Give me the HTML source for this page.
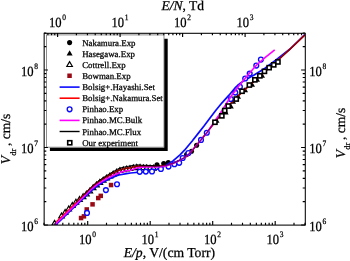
<!DOCTYPE html><html><head><meta charset="utf-8"><style>html,body{margin:0;padding:0;background:#fff}svg{display:block;will-change:transform}text{text-rendering:geometricPrecision;stroke:#000;stroke-width:0.25px;font-family:"Liberation Serif",serif;fill:#000}</style></head><body>
<svg width="350" height="261" viewBox="0 0 350 261">
<rect width="350" height="261" fill="#fff"/>
<clipPath id="c"><rect x="44.0" y="33.0" width="261.0" height="192.0"/></clipPath>
<g clip-path="url(#c)">
<circle cx="157.0" cy="164.7" r="2.55" fill="#000"/>
<circle cx="163.7" cy="163.6" r="2.55" fill="#000"/>
<circle cx="168.3" cy="162.5" r="2.55" fill="#000"/>
<circle cx="186.6" cy="154.6" r="2.55" fill="#000"/>
<circle cx="191.5" cy="151.2" r="2.55" fill="#000"/>
<circle cx="196.6" cy="145.2" r="2.55" fill="#000"/>
<polygon points="216.50,117.49 213.50,122.71 219.50,122.71" fill="#000"/>
<polygon points="221.00,111.99 218.00,117.21 224.00,117.21" fill="#000"/>
<polygon points="225.60,109.29 222.60,114.51 228.60,114.51" fill="#000"/>
<polygon points="230.80,103.29 227.80,108.51 233.80,108.51" fill="#000"/>
<polygon points="233.00,98.49 230.00,103.71 236.00,103.71" fill="#000"/>
<polygon points="238.00,93.49 235.00,98.71 241.00,98.71" fill="#000"/>
<polygon points="245.00,86.99 242.00,92.21 248.00,92.21" fill="#000"/>
<polygon points="252.00,81.49 249.00,86.71 255.00,86.71" fill="#000"/>
<polygon points="257.00,76.49 254.00,81.71 260.00,81.71" fill="#000"/>
<polygon points="262.00,72.49 259.00,77.71 265.00,77.71" fill="#000"/>
<polygon points="54.60,220.31 51.80,225.18 57.40,225.18" fill="#fff" stroke="#000" stroke-width="1.15" stroke-linejoin="miter"/>
<polygon points="61.50,213.01 58.70,217.88 64.30,217.88" fill="#fff" stroke="#000" stroke-width="1.15" stroke-linejoin="miter"/>
<polygon points="65.10,209.50 62.30,214.37 67.90,214.37" fill="#fff" stroke="#000" stroke-width="1.15" stroke-linejoin="miter"/>
<polygon points="68.70,205.99 65.90,210.86 71.50,210.86" fill="#fff" stroke="#000" stroke-width="1.15" stroke-linejoin="miter"/>
<polygon points="72.30,202.51 69.50,207.38 75.10,207.38" fill="#fff" stroke="#000" stroke-width="1.15" stroke-linejoin="miter"/>
<polygon points="75.90,199.23 73.10,204.10 78.70,204.10" fill="#fff" stroke="#000" stroke-width="1.15" stroke-linejoin="miter"/>
<polygon points="79.50,196.49 76.70,201.36 82.30,201.36" fill="#fff" stroke="#000" stroke-width="1.15" stroke-linejoin="miter"/>
<polygon points="83.10,193.74 80.30,198.62 85.90,198.62" fill="#fff" stroke="#000" stroke-width="1.15" stroke-linejoin="miter"/>
<polygon points="86.45,191.12 83.65,195.99 89.25,195.99" fill="#fff" stroke="#000" stroke-width="1.15" stroke-linejoin="miter"/>
<polygon points="89.80,188.04 87.00,192.91 92.60,192.91" fill="#fff" stroke="#000" stroke-width="1.15" stroke-linejoin="miter"/>
<polygon points="93.15,184.80 90.35,189.68 95.95,189.68" fill="#fff" stroke="#000" stroke-width="1.15" stroke-linejoin="miter"/>
<polygon points="96.50,181.93 93.70,186.80 99.30,186.80" fill="#fff" stroke="#000" stroke-width="1.15" stroke-linejoin="miter"/>
<polygon points="99.85,179.48 97.05,184.35 102.65,184.35" fill="#fff" stroke="#000" stroke-width="1.15" stroke-linejoin="miter"/>
<polygon points="103.20,177.19 100.40,182.06 106.00,182.06" fill="#fff" stroke="#000" stroke-width="1.15" stroke-linejoin="miter"/>
<polygon points="106.55,175.08 103.75,179.95 109.35,179.95" fill="#fff" stroke="#000" stroke-width="1.15" stroke-linejoin="miter"/>
<polygon points="109.90,173.13 107.10,178.00 112.70,178.00" fill="#fff" stroke="#000" stroke-width="1.15" stroke-linejoin="miter"/>
<polygon points="113.25,171.14 110.45,176.01 116.05,176.01" fill="#fff" stroke="#000" stroke-width="1.15" stroke-linejoin="miter"/>
<polygon points="116.60,169.22 113.80,174.09 119.40,174.09" fill="#fff" stroke="#000" stroke-width="1.15" stroke-linejoin="miter"/>
<polygon points="119.95,167.66 117.15,172.53 122.75,172.53" fill="#fff" stroke="#000" stroke-width="1.15" stroke-linejoin="miter"/>
<polygon points="123.30,166.85 120.50,171.72 126.10,171.72" fill="#fff" stroke="#000" stroke-width="1.15" stroke-linejoin="miter"/>
<polygon points="126.65,166.06 123.85,170.94 129.45,170.94" fill="#fff" stroke="#000" stroke-width="1.15" stroke-linejoin="miter"/>
<polygon points="130.00,165.58 127.20,170.46 132.80,170.46" fill="#fff" stroke="#000" stroke-width="1.15" stroke-linejoin="miter"/>
<polygon points="133.35,164.85 130.55,169.72 136.15,169.72" fill="#fff" stroke="#000" stroke-width="1.15" stroke-linejoin="miter"/>
<polygon points="136.70,164.50 133.90,169.37 139.50,169.37" fill="#fff" stroke="#000" stroke-width="1.15" stroke-linejoin="miter"/>
<polygon points="140.05,164.51 137.25,169.38 142.85,169.38" fill="#fff" stroke="#000" stroke-width="1.15" stroke-linejoin="miter"/>
<polygon points="143.40,164.80 140.60,169.67 146.20,169.67" fill="#fff" stroke="#000" stroke-width="1.15" stroke-linejoin="miter"/>
<polygon points="146.75,164.86 143.95,169.73 149.55,169.73" fill="#fff" stroke="#000" stroke-width="1.15" stroke-linejoin="miter"/>
<polygon points="150.10,165.03 147.30,169.90 152.90,169.90" fill="#fff" stroke="#000" stroke-width="1.15" stroke-linejoin="miter"/>
<polygon points="153.45,165.20 150.65,170.08 156.25,170.08" fill="#fff" stroke="#000" stroke-width="1.15" stroke-linejoin="miter"/>
<rect x="78.8" y="215.8" width="4.5" height="4.5" fill="#9a0a14"/>
<rect x="81.7" y="214.1" width="4.5" height="4.5" fill="#9a0a14"/>
<rect x="84.5" y="207.2" width="4.5" height="4.5" fill="#9a0a14"/>
<rect x="90.3" y="202.1" width="4.5" height="4.5" fill="#9a0a14"/>
<rect x="96.0" y="195.8" width="4.5" height="4.5" fill="#9a0a14"/>
<rect x="98.5" y="193.6" width="4.5" height="4.5" fill="#9a0a14"/>
<rect x="108.8" y="182.8" width="4.5" height="4.5" fill="#9a0a14"/>
<path d="M56.2 224.5L58.2 222.5L60.2 220.6L62.2 218.6L64.2 216.7L66.2 214.8L68.2 212.8L70.2 210.9L72.2 209.0L74.2 207.1L76.2 205.2L78.2 203.3L80.2 201.4L82.2 199.5L84.2 197.6L86.2 195.7L88.2 193.8L90.2 191.9L92.2 190.0L94.2 188.3L96.2 186.7L98.2 185.3L100.2 184.0L102.2 182.8L104.2 181.6L106.2 180.5L108.2 179.5L110.2 178.5L112.2 177.6L116.0 176.0L119.0 175.0L126.5 173.7L130.5 173.0L136.0 172.5L140.0 172.2L146.0 171.7L152.0 170.8L157.0 169.3L162.0 167.4L167.0 165.0L173.0 160.9L180.0 154.8L184.5 150.2L192.0 141.2L198.0 133.6L204.0 126.0L210.0 118.0L215.7 110.5L222.0 102.8L229.0 95.2L235.0 88.0L240.0 83.4L246.0 79.4L253.7 75.2L265.0 68.2L276.0 59.9L290.0 49.0L305.0 34.4" fill="none" stroke="#0a0aff" stroke-width="1.7" stroke-linejoin="round"/>
<path d="M56.5 221.9L58.5 219.9L60.5 218.0L62.5 216.0L64.5 214.1L66.5 212.1L68.5 210.2L70.5 208.2L72.5 206.3L74.5 204.3L76.5 202.4L78.5 200.4L80.5 198.4L82.5 196.5L84.5 194.5L86.5 192.5L88.5 190.4L90.5 188.5L92.5 186.6L94.5 184.8L96.5 183.2L98.5 181.8L100.5 180.4L102.5 179.1L104.5 177.9L106.5 176.7L108.5 175.6L110.5 174.5L112.5 173.4L114.5 172.4L116.5 171.4L118.5 170.4L120.5 169.7L122.5 169.2L124.5 168.8L126.5 168.3L128.5 168.1L130.5 167.8L132.5 167.2L134.5 166.8L136.5 166.4L138.5 166.1L140.5 166.1L142.5 166.2L144.5 166.1L146.5 166.1L148.5 166.2L150.5 166.2L152.5 166.2L154.5 166.3L156.5 166.2L158.5 166.1L160.5 166.0L167.0 165.2L173.0 163.3L178.0 161.1L184.5 157.6L189.0 153.9L193.0 149.6L199.0 142.3L205.0 134.8L211.0 127.2L217.0 119.5L223.0 112.3L229.0 105.4L235.0 99.2L243.0 91.3L250.0 84.9L256.0 79.4L265.0 71.6L276.0 62.0L290.0 49.2L305.0 34.9" fill="none" stroke="#ff0000" stroke-width="1.6" stroke-linejoin="round"/>
<circle cx="87.0" cy="212.9" r="2.4" fill="#fff" stroke="#0a0aff" stroke-width="1.35"/>
<circle cx="105.9" cy="190.1" r="2.4" fill="#fff" stroke="#0a0aff" stroke-width="1.35"/>
<circle cx="117.0" cy="184.2" r="2.4" fill="#fff" stroke="#0a0aff" stroke-width="1.35"/>
<circle cx="139.7" cy="171.8" r="2.4" fill="#fff" stroke="#0a0aff" stroke-width="1.35"/>
<circle cx="145.8" cy="171.6" r="2.4" fill="#fff" stroke="#0a0aff" stroke-width="1.35"/>
<circle cx="152.0" cy="171.4" r="2.4" fill="#fff" stroke="#0a0aff" stroke-width="1.35"/>
<circle cx="160.9" cy="169.0" r="2.4" fill="#fff" stroke="#0a0aff" stroke-width="1.35"/>
<circle cx="168.5" cy="166.6" r="2.4" fill="#fff" stroke="#0a0aff" stroke-width="1.35"/>
<circle cx="174.4" cy="164.2" r="2.4" fill="#fff" stroke="#0a0aff" stroke-width="1.35"/>
<circle cx="179.2" cy="162.8" r="2.4" fill="#fff" stroke="#0a0aff" stroke-width="1.35"/>
<circle cx="182.7" cy="158.0" r="2.4" fill="#fff" stroke="#0a0aff" stroke-width="1.35"/>
<circle cx="188.4" cy="153.0" r="2.4" fill="#fff" stroke="#0a0aff" stroke-width="1.35"/>
<circle cx="201.0" cy="139.9" r="2.4" fill="#fff" stroke="#0a0aff" stroke-width="1.35"/>
<circle cx="206.8" cy="132.7" r="2.4" fill="#fff" stroke="#0a0aff" stroke-width="1.35"/>
<circle cx="230.8" cy="99.0" r="2.4" fill="#fff" stroke="#0a0aff" stroke-width="1.35"/>
<circle cx="235.3" cy="92.6" r="2.4" fill="#fff" stroke="#0a0aff" stroke-width="1.35"/>
<circle cx="239.9" cy="86.8" r="2.4" fill="#fff" stroke="#0a0aff" stroke-width="1.35"/>
<circle cx="245.2" cy="78.5" r="2.4" fill="#fff" stroke="#0a0aff" stroke-width="1.35"/>
<circle cx="249.7" cy="73.6" r="2.4" fill="#fff" stroke="#0a0aff" stroke-width="1.35"/>
<circle cx="256.3" cy="65.6" r="2.4" fill="#fff" stroke="#0a0aff" stroke-width="1.35"/>
<circle cx="260.9" cy="59.6" r="2.4" fill="#fff" stroke="#0a0aff" stroke-width="1.35"/>
<path d="M54.6 225.0L62.0 217.8L70.0 210.0L78.0 202.3L84.3 196.2L88.5 192.0L91.8 188.8L95.0 186.1L97.2 184.4L100.0 182.6L103.0 180.7L106.0 179.0L108.7 177.6L111.5 176.2L114.5 174.8L118.0 173.2L120.0 172.4L126.5 170.8L130.5 170.2L136.0 168.3L139.0 167.4L145.0 167.0L150.0 167.0L155.0 167.0L161.5 166.6L167.0 165.7L173.0 163.5L178.0 161.2L184.5 157.6L188.0 155.0L192.0 150.5L196.5 145.3L201.0 140.0L207.2 132.5L212.0 125.3L217.0 118.0L222.0 110.5L227.0 102.5L232.0 95.0L238.0 87.0L244.0 79.8L250.0 72.5L256.6 65.0L265.0 57.6L274.7 49.8" fill="none" stroke="#ff00ff" stroke-width="1.6" stroke-linejoin="round"/>
<path d="M76.0 202.8L78.0 200.7L80.0 198.7L82.0 196.6L84.0 194.6L86.0 192.5L88.0 190.4L90.0 188.3L92.0 186.3L94.0 184.5L96.0 182.8L98.0 181.3L100.0 179.9" fill="none" stroke="#000" stroke-width="0.7" stroke-linejoin="round"/>
<path d="M98.0 181.3L100.0 179.9L102.0 178.5L104.0 177.2L106.0 175.9L108.0 174.7L110.0 173.5L112.0 172.3L114.0 171.2L116.0 170.0L118.0 168.9L120.0 168.1L122.0 167.6L124.0 167.2L126.0 166.7L128.0 166.3L130.0 166.1L132.0 165.5L134.0 165.3L136.0 165.0L138.0 164.9L140.0 165.0L142.0 165.3L144.0 165.3L146.0 165.3L148.0 165.4L150.0 165.5L152.0 165.6L154.0 165.7L156.0 165.8L158.0 165.7L160.0 165.7" fill="none" stroke="#000" stroke-width="1.0" stroke-linejoin="round"/>
<g opacity="0.5">
<path d="M84.5 194.5L86.5 192.5L88.5 190.4L90.5 188.5L92.5 186.6L94.5 184.8L96.5 183.2L98.5 181.8L100.5 180.4L102.5 179.1L104.5 177.9L106.5 176.7L108.5 175.6L110.5 174.5L112.5 173.4L114.5 172.4L116.5 171.4L118.5 170.4L120.5 169.7L122.5 169.2L124.5 168.8L126.5 168.3L128.5 168.1L130.5 167.8L132.5 167.2L134.5 166.8L136.5 166.4L138.5 166.1L140.5 166.1L142.5 166.2L144.5 166.1L146.5 166.1L148.5 166.2L150.5 166.2L152.5 166.2L154.5 166.3L156.5 166.2L158.5 166.1L160.5 166.0L167.0 165.2L173.0 163.3L178.0 161.1L184.5 157.6L189.0 153.9L193.0 149.6L199.0 142.3L205.0 134.8L211.0 127.2L217.0 119.5L223.0 112.3L229.0 105.4L235.0 99.2L243.0 91.3L250.0 84.9L256.0 79.4L265.0 71.6L276.0 62.0L290.0 49.2L305.0 34.9" fill="none" stroke="#000" stroke-width="1.3" stroke-linejoin="round"/>
</g>
<rect x="212.9" y="120.2" width="4.1" height="4.1" fill="#fff" stroke="#000" stroke-width="1.6"/>
<rect x="219.8" y="113.8" width="4.1" height="4.1" fill="#fff" stroke="#000" stroke-width="1.6"/>
<rect x="222.7" y="108.5" width="4.1" height="4.1" fill="#fff" stroke="#000" stroke-width="1.6"/>
<rect x="226.2" y="104.0" width="4.1" height="4.1" fill="#fff" stroke="#000" stroke-width="1.6"/>
<rect x="234.2" y="97.0" width="4.1" height="4.1" fill="#fff" stroke="#000" stroke-width="1.6"/>
<rect x="240.0" y="89.2" width="4.1" height="4.1" fill="#fff" stroke="#000" stroke-width="1.6"/>
<rect x="247.3" y="83.0" width="4.1" height="4.1" fill="#fff" stroke="#000" stroke-width="1.6"/>
<rect x="252.8" y="77.8" width="4.1" height="4.1" fill="#fff" stroke="#000" stroke-width="1.6"/>
<rect x="257.8" y="73.8" width="4.1" height="4.1" fill="#fff" stroke="#000" stroke-width="1.6"/>
<rect x="262.4" y="69.3" width="4.1" height="4.1" fill="#fff" stroke="#000" stroke-width="1.6"/>
<rect x="267.1" y="65.6" width="4.1" height="4.1" fill="#fff" stroke="#000" stroke-width="1.6"/>
<rect x="271.7" y="62.8" width="4.1" height="4.1" fill="#fff" stroke="#000" stroke-width="1.6"/>
<rect x="275.9" y="59.9" width="4.1" height="4.1" fill="#fff" stroke="#000" stroke-width="1.6"/>
</g>
<path d="M49.9 147.5H164.0V38.8H167.7V151.04999999999998H49.9Z" fill="#000"/>
<rect x="46.5" y="34.9" width="117.5" height="112.29999999999998" fill="#fff" stroke="#808080" stroke-width="0.9"/>
<circle cx="69.6" cy="42.6" r="2.55" fill="#000"/>
<text x="82.2" y="45.7" font-size="8.85">Nakamura.Exp</text>
<polygon points="69.60,50.29 66.60,55.51 72.60,55.51" fill="#000"/>
<text x="82.2" y="56.8" font-size="8.85">Hasegawa.Exp</text>
<polygon points="69.60,61.62 66.80,66.50 72.40,66.50" fill="#fff" stroke="#000" stroke-width="1.15" stroke-linejoin="miter"/>
<text x="82.2" y="67.9" font-size="8.85">Cottrell.Exp</text>
<rect x="67.3" y="73.5" width="4.5" height="4.5" fill="#9a0a14"/>
<text x="82.2" y="79.0" font-size="8.85">Bowman.Exp</text>
<path d="M59.6 87.1H79.6" stroke="#0a0aff" stroke-width="1.6"/>
<text x="82.2" y="90.1" font-size="8.85">Bolsig+.Hayashi.Set</text>
<path d="M59.6 98.2H79.6" stroke="#ff0000" stroke-width="1.6"/>
<text x="82.2" y="101.2" font-size="8.85">Bolsig+.Nakamura.Set</text>
<circle cx="69.6" cy="109.3" r="2.4" fill="#fff" stroke="#0a0aff" stroke-width="1.35"/>
<text x="82.2" y="112.3" font-size="8.85">Pinhao.Exp</text>
<path d="M59.6 120.4H79.6" stroke="#ff00ff" stroke-width="1.6"/>
<text x="82.2" y="123.4" font-size="8.85">Pinhao.MC.Bulk</text>
<path d="M59.6 131.5H79.6" stroke="#000" stroke-width="1.4"/>
<text x="82.2" y="134.5" font-size="8.85">Pinhao.MC.Flux</text>
<rect x="67.7" y="140.7" width="4.1" height="4.1" fill="#fff" stroke="#000" stroke-width="1.6"/>
<text x="82.2" y="145.6" font-size="8.85">Our experiment</text>
<path d="M44.00 225.00L44.00 222.70M55.01 225.00L55.01 222.70M62.81 225.00L62.81 222.70M68.87 225.00L68.87 222.70M73.82 225.00L73.82 222.70M78.00 225.00L78.00 222.70M81.63 225.00L81.63 222.70M84.83 225.00L84.83 222.70M87.69 225.00L87.69 221.10M106.50 225.00L106.50 222.70M117.51 225.00L117.51 222.70M125.31 225.00L125.31 222.70M131.37 225.00L131.37 222.70M136.32 225.00L136.32 222.70M140.50 225.00L140.50 222.70M144.13 225.00L144.13 222.70M147.33 225.00L147.33 222.70M150.19 225.00L150.19 221.10M169.00 225.00L169.00 222.70M180.01 225.00L180.01 222.70M187.81 225.00L187.81 222.70M193.87 225.00L193.87 222.70M198.82 225.00L198.82 222.70M203.00 225.00L203.00 222.70M206.63 225.00L206.63 222.70M209.83 225.00L209.83 222.70M212.69 225.00L212.69 221.10M231.50 225.00L231.50 222.70M242.51 225.00L242.51 222.70M250.31 225.00L250.31 222.70M256.37 225.00L256.37 222.70M261.32 225.00L261.32 222.70M265.50 225.00L265.50 222.70M269.13 225.00L269.13 222.70M272.33 225.00L272.33 222.70M275.19 225.00L275.19 221.10M294.00 225.00L294.00 222.70M305.01 225.00L305.01 222.70M47.91 33.00L47.91 35.30M51.54 33.00L51.54 35.30M54.74 33.00L54.74 35.30M57.60 33.00L57.60 36.90M76.41 33.00L76.41 35.30M87.42 33.00L87.42 35.30M95.22 33.00L95.22 35.30M101.28 33.00L101.28 35.30M106.23 33.00L106.23 35.30M110.41 33.00L110.41 35.30M114.04 33.00L114.04 35.30M117.24 33.00L117.24 35.30M120.10 33.00L120.10 36.90M138.91 33.00L138.91 35.30M149.92 33.00L149.92 35.30M157.72 33.00L157.72 35.30M163.78 33.00L163.78 35.30M168.73 33.00L168.73 35.30M172.91 33.00L172.91 35.30M176.54 33.00L176.54 35.30M179.74 33.00L179.74 35.30M182.60 33.00L182.60 36.90M201.41 33.00L201.41 35.30M212.42 33.00L212.42 35.30M220.22 33.00L220.22 35.30M226.28 33.00L226.28 35.30M231.23 33.00L231.23 35.30M235.41 33.00L235.41 35.30M239.04 33.00L239.04 35.30M242.24 33.00L242.24 35.30M245.10 33.00L245.10 36.90M263.91 33.00L263.91 35.30M274.92 33.00L274.92 35.30M282.72 33.00L282.72 35.30M288.78 33.00L288.78 35.30M293.73 33.00L293.73 35.30M297.91 33.00L297.91 35.30M301.54 33.00L301.54 35.30M44.00 225.00L47.90 225.00M305.00 225.00L301.10 225.00M44.00 201.67L46.30 201.67M305.00 201.67L302.70 201.67M44.00 188.02L46.30 188.02M305.00 188.02L302.70 188.02M44.00 178.34L46.30 178.34M305.00 178.34L302.70 178.34M44.00 170.83L46.30 170.83M305.00 170.83L302.70 170.83M44.00 164.69L46.30 164.69M305.00 164.69L302.70 164.69M44.00 159.50L46.30 159.50M305.00 159.50L302.70 159.50M44.00 155.01L46.30 155.01M305.00 155.01L302.70 155.01M44.00 151.05L46.30 151.05M305.00 151.05L302.70 151.05M44.00 147.50L47.90 147.50M305.00 147.50L301.10 147.50M44.00 124.17L46.30 124.17M305.00 124.17L302.70 124.17M44.00 110.52L46.30 110.52M305.00 110.52L302.70 110.52M44.00 100.84L46.30 100.84M305.00 100.84L302.70 100.84M44.00 93.33L46.30 93.33M305.00 93.33L302.70 93.33M44.00 87.19L46.30 87.19M305.00 87.19L302.70 87.19M44.00 82.00L46.30 82.00M305.00 82.00L302.70 82.00M44.00 77.51L46.30 77.51M305.00 77.51L302.70 77.51M44.00 73.55L46.30 73.55M305.00 73.55L302.70 73.55M44.00 70.00L47.90 70.00M305.00 70.00L301.10 70.00M44.00 46.67L46.30 46.67M305.00 46.67L302.70 46.67M44.00 33.02L46.30 33.02M305.00 33.02L302.70 33.02" stroke="#000" stroke-width="1.15" fill="none"/>
<rect x="44.15" y="33.3" width="261.15000000000003" height="191.8" fill="none" stroke="#000" stroke-width="1.05"/>
<text transform="translate(79.04,244.20) scale(0.9,1)" font-size="14.0">10<tspan font-size="8.3" dy="-7.1" dx="0.8">0</tspan></text>
<text transform="translate(49.05,26.90) scale(0.9,1)" font-size="14.0">10<tspan font-size="8.3" dy="-7.1" dx="0.8">0</tspan></text>
<text transform="translate(141.54,244.20) scale(0.9,1)" font-size="14.0">10<tspan font-size="8.3" dy="-7.1" dx="0.8">1</tspan></text>
<text transform="translate(111.55,26.90) scale(0.9,1)" font-size="14.0">10<tspan font-size="8.3" dy="-7.1" dx="0.8">1</tspan></text>
<text transform="translate(204.04,244.20) scale(0.9,1)" font-size="14.0">10<tspan font-size="8.3" dy="-7.1" dx="0.8">2</tspan></text>
<text transform="translate(174.05,26.90) scale(0.9,1)" font-size="14.0">10<tspan font-size="8.3" dy="-7.1" dx="0.8">2</tspan></text>
<text transform="translate(266.54,244.20) scale(0.9,1)" font-size="14.0">10<tspan font-size="8.3" dy="-7.1" dx="0.8">3</tspan></text>
<text transform="translate(236.55,26.90) scale(0.9,1)" font-size="14.0">10<tspan font-size="8.3" dy="-7.1" dx="0.8">3</tspan></text>
<text transform="translate(20.95,230.70) scale(0.9,1)" font-size="14.0">10<tspan font-size="8.3" dy="-7.1" dx="0.8">6</tspan></text>
<text transform="translate(309.15,230.70) scale(0.9,1)" font-size="14.0">10<tspan font-size="8.3" dy="-7.1" dx="0.8">6</tspan></text>
<text transform="translate(20.95,153.20) scale(0.9,1)" font-size="14.0">10<tspan font-size="8.3" dy="-7.1" dx="0.8">7</tspan></text>
<text transform="translate(309.15,153.20) scale(0.9,1)" font-size="14.0">10<tspan font-size="8.3" dy="-7.1" dx="0.8">7</tspan></text>
<text transform="translate(20.95,75.60) scale(0.9,1)" font-size="14.0">10<tspan font-size="8.3" dy="-7.1" dx="0.8">8</tspan></text>
<text transform="translate(309.15,75.60) scale(0.9,1)" font-size="14.0">10<tspan font-size="8.3" dy="-7.1" dx="0.8">8</tspan></text>
<text x="161.4" y="9.9" font-size="13.5"><tspan font-style="italic">E/N</tspan>, Td</text>
<text x="123.7" y="257.3" font-size="13.65"><tspan font-style="italic">E/p</tspan>, V/(cm Torr)</text>
<text transform="translate(10.2,164.3) rotate(-90)" font-size="13.5"><tspan font-style="italic">V</tspan><tspan font-size="8.5" dy="5.3" dx="0.3">dr</tspan><tspan dy="-5.3" dx="2.6">, cm/s</tspan></text>
<text transform="translate(344.8,158.3) rotate(-90)" font-size="13.5"><tspan font-style="italic">V</tspan><tspan font-size="8.5" dy="5.3" dx="0.3">dr</tspan><tspan dy="-5.3" dx="2.6">, cm/s</tspan></text>
</svg></body></html>
